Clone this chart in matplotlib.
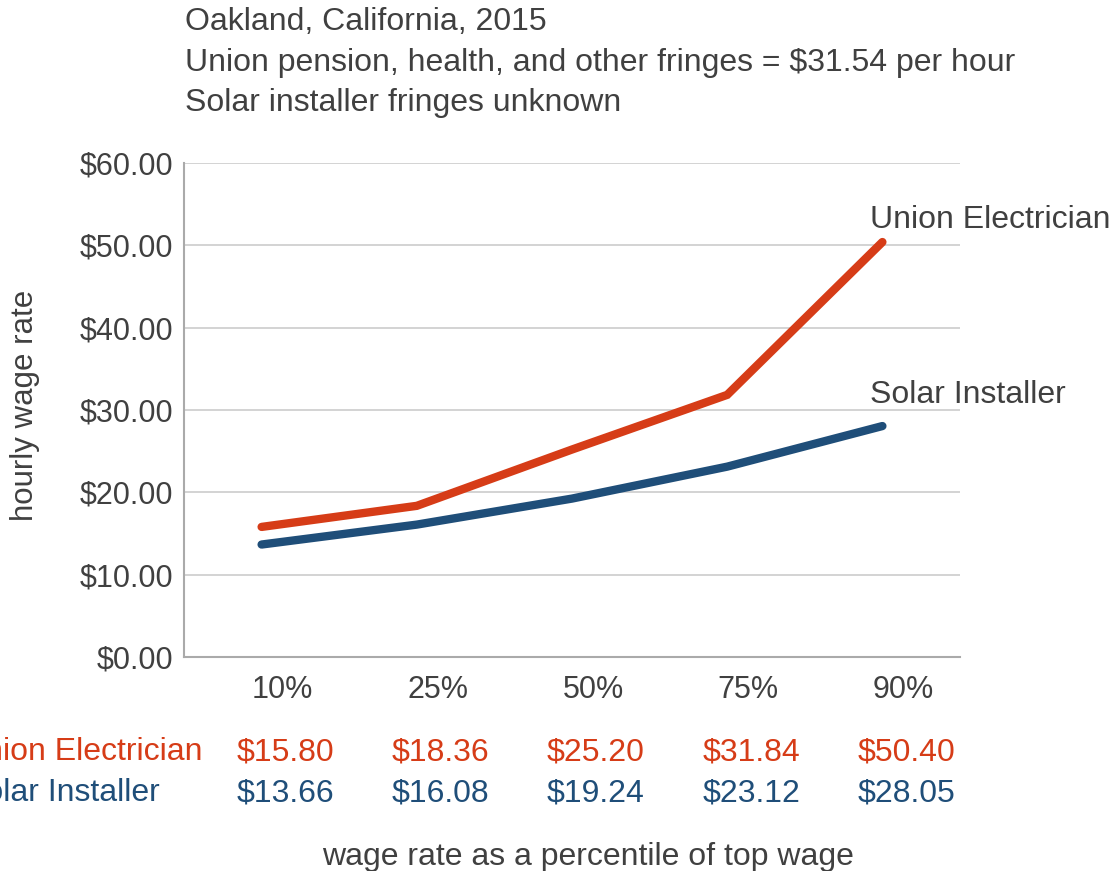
import matplotlib.pyplot as plt
import matplotlib.transforms as mtransforms

plt.rcParams["font.family"] = ["Liberation Sans", "DejaVu Sans"]

percentiles = ['10%', '25%', '50%', '75%', '90%']
union = [15.80, 18.36, 25.20, 31.84, 50.40]
solar = [13.66, 16.08, 19.24, 23.12, 28.05]
yticks = [0, 10, 20, 30, 40, 50, 60]

red = '#d63c17'
blue = '#1f4e79'
gray = '#404040'

W, H = 1114, 871
fig = plt.figure(figsize=(W / 100, H / 100), dpi=100)
ax = fig.add_axes([184 / W, 1 - 657 / H, (960 - 184) / W, (657 - 163) / H])

x = list(range(len(percentiles)))
ax.plot(x, union, color=red, lw=6, solid_capstyle='round', solid_joinstyle='miter')
ax.plot(x, solar, color=blue, lw=6, solid_capstyle='round', solid_joinstyle='miter')

ax.set_xlim(-0.5, 4.5)
ax.set_ylim(0, 60)
ax.set_yticks(yticks)
ax.set_yticklabels(['${:.2f}'.format(v) for v in yticks], fontsize=22, color=gray)
ax.yaxis.grid(True, color='#cccccc', lw=1.2)
ax.set_axisbelow(True)
ax.tick_params(axis='y', length=0, pad=8)
ax.tick_params(axis='x', length=0, pad=13)
for s in ['top', 'right']:
    ax.spines[s].set_visible(False)
for s in ['left', 'bottom']:
    ax.spines[s].set_color('#aaaaaa')
    ax.spines[s].set_linewidth(1.5)

ax.set_xticks(x)
ax.set_xticklabels(percentiles, fontsize=22, color=gray)
shift = mtransforms.ScaledTranslation(21 / 100, 0, fig.dpi_scale_trans)
for lbl in ax.get_xticklabels():
    lbl.set_transform(lbl.get_transform() + shift)

# line labels
fig.text(870 / W, 1 - 220 / H, 'Union Electrician', fontsize=23, color=gray, ha='left', va='center')
fig.text(870 / W, 1 - 395 / H, 'Solar Installer', fontsize=23, color=gray, ha='left', va='center')

# table below the axis
tshift = mtransforms.ScaledTranslation(24 / 100, 0, fig.dpi_scale_trans)
trans = mtransforms.blended_transform_factory(ax.transData, fig.transFigure) + tshift
for i in x:
    ax.text(i, 1 - 752 / H, '${:.2f}'.format(union[i]), fontsize=23, color=red,
            ha='center', va='center', transform=trans)
    ax.text(i, 1 - 793 / H, '${:.2f}'.format(solar[i]), fontsize=23, color=blue,
            ha='center', va='center', transform=trans)
fig.text(203 / W, 1 - 752 / H, 'Union Electrician', fontsize=23, color=red, ha='right', va='center')
fig.text(160 / W, 1 - 793 / H, 'Solar Installer', fontsize=23, color=blue, ha='right', va='center')

fig.text(588 / W, 1 - 857 / H, 'wage rate as a percentile of top wage', fontsize=23,
         color=gray, ha='center', va='center')
fig.text(25 / W, 1 - 405 / H, 'hourly wage rate', fontsize=22.5, color=gray,
         rotation=90, ha='center', va='center')

fig.text(185 / W, 1 - 22 / H, 'Oakland, California, 2015', fontsize=23, color=gray, va='center')
fig.text(185 / W, 1 - 63 / H, 'Union pension, health, and other fringes = $31.54 per hour',
         fontsize=23, color=gray, va='center')
fig.text(185 / W, 1 - 103 / H, 'Solar installer fringes unknown', fontsize=23, color=gray, va='center')

fig.savefig('out.png', dpi=100)
